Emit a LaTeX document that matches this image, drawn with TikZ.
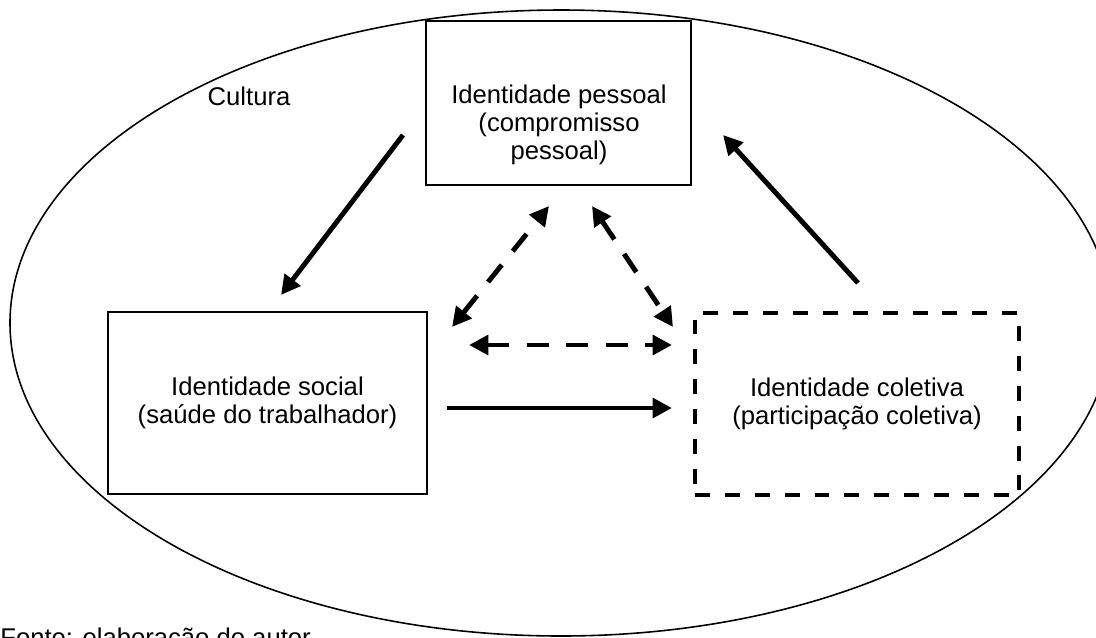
\documentclass[tikz,border=0pt]{standalone}
\usepackage{fontspec}
\setmainfont{Liberation Sans}
\usepackage{tikz}
\usetikzlibrary{arrows.meta,positioning}

\begin{document}
\begin{tikzpicture}[
    x=0.02cm, y=-0.02cm,
    caixa/.style={rectangle, draw, line width=1.1pt, inner sep=0pt, align=center, font=\fontsize{14.6}{15.9}\selectfont},
    caixatrac/.style={caixa, line width=2.8pt, dash pattern=on 8.5pt off 8.5pt},
    texto/.style={inner sep=0pt, align=center, font=\fontsize{14.6}{15.9}\selectfont},
    seta/.style={-{Triangle[length=11pt, width=11pt]}, line width=2.8pt},
    setadupla/.style={{Triangle[length=11pt, width=11pt]}-{Triangle[length=11pt, width=11pt]}, line width=2.8pt, dash pattern=on 12.5pt off 10pt}
]
    \useasboundingbox (0,0) rectangle (1096,637);

    % Cultura
    \draw[line width=0.9pt] (561,323) ellipse [x radius=551, y radius=313];
    \node[texto] (cultura) at (249,96) {Cultura};

    % Identidades
    \node[caixa, minimum width=5.3cm, minimum height=3.28cm] (pessoal) at (558.5,103) {};
    \node[texto] (pessoaltxt) at (559,125) {Identidade pessoal\\(compromisso\\pessoal)};
    \node[caixa, minimum width=6.38cm, minimum height=3.64cm] (social) at (267.5,403) {Identidade social\\(saúde do trabalhador)};
    \node[caixatrac, minimum width=6.48cm, minimum height=3.64cm] (coletiva) at (857,404) {Identidade coletiva\\(participação coletiva)};

    % Pontas livres
    \coordinate (p1) at (403,135);
    \coordinate (s1) at (281,295);
    \coordinate (c2) at (858,283);
    \coordinate (p2) at (723,135);
    \coordinate (s3) at (447,408);
    \coordinate (c3) at (672,408);
    \coordinate (s4) at (469,345);
    \coordinate (c4) at (672,345);
    \coordinate (s5) at (452,327);
    \coordinate (p5) at (549,206);
    \coordinate (p6) at (592,206);
    \coordinate (c6) at (673,327);

    % Setas cheias
    \draw[seta] (p1) -- (s1);
    \draw[seta] (c2) -- (p2);
    \draw[seta] (s3) -- (c3);

    % Setas tracejadas
    \draw[setadupla] (s4) -- (c4);
    \draw[setadupla] (s5) -- (p5);
    \draw[setadupla] (p6) -- (c6);

    % Fonte
    \node[texto, anchor=base west] (fonte) at (0,646) {Fonte: elaboração do autor};
\end{tikzpicture}
\end{document}
